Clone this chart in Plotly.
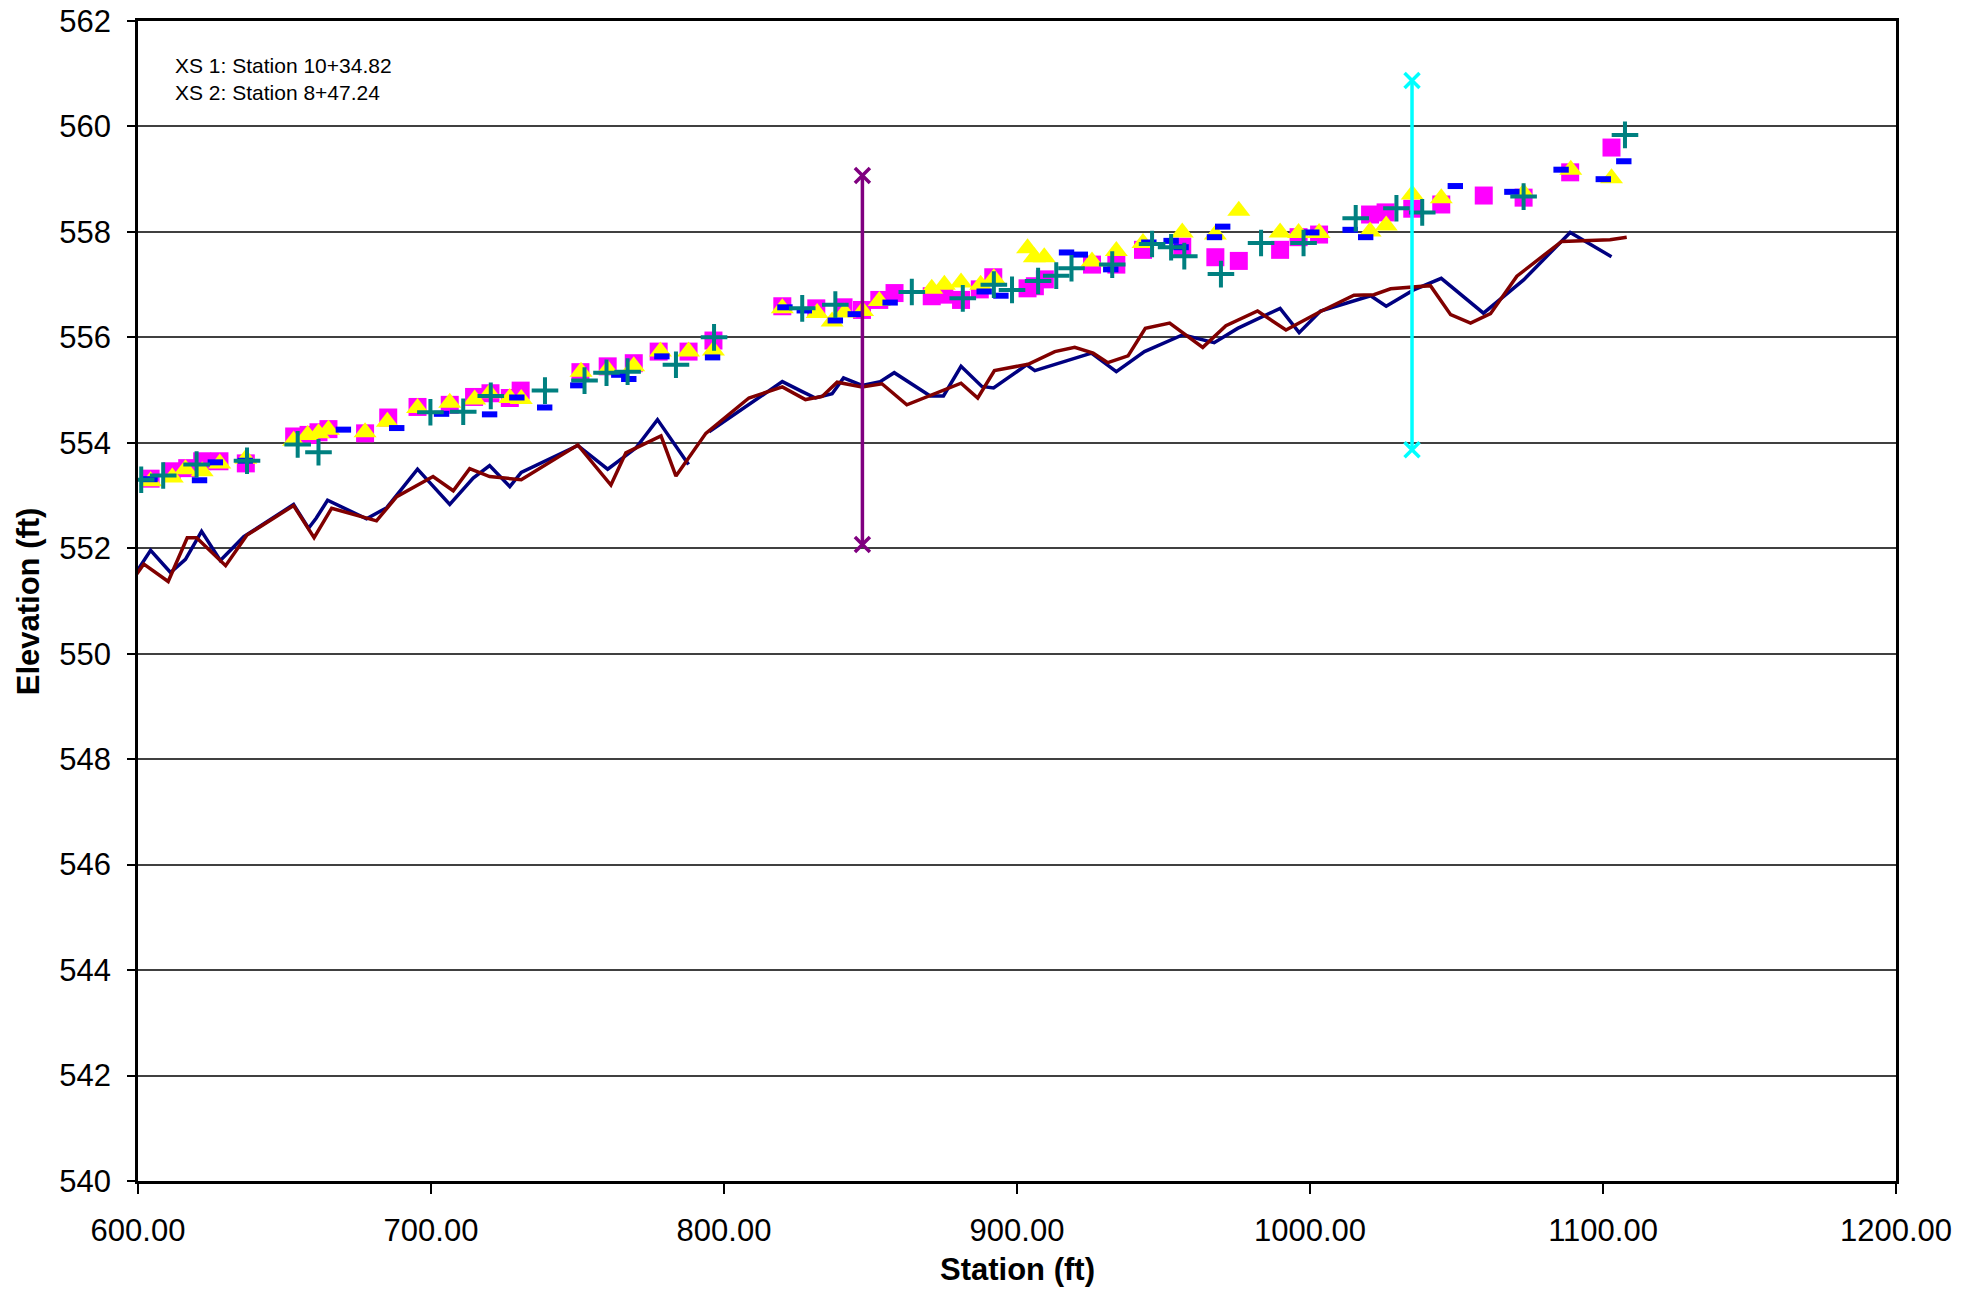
import plotly.graph_objects as go

# ---- Data ----
line1_x = [597.7, 604.3, 611.1, 616.2, 621.7, 628.1, 636.1, 653.1, 658.2, 660.8, 664.7, 678.0, 684.9,
           695.4, 706.4, 714.4, 720.0, 726.9, 730.8, 750.1, 760.3, 769.9, 777.3, 787.9, None,
           794.9, 808.5, 819.9, 826.7, 831.2, 836.9, 840.8, 847.1, 853.3, 858.1, 870.4, 874.9,
           880.9, 888.0, 892.0, 903.3, 906.1, 925.4, 933.9, 943.5, 956.6, 967.3, 975.3, 989.8,
           996.3, 1003.6, 1020.7, 1026.0, 1035.4, 1044.8, 1059.2, 1072.9, 1088.8, 1102.9]
line1_y = [551.40, 551.96, 551.54, 551.79, 552.32, 551.77, 552.22, 552.83, 552.38, 552.57, 552.91, 552.56, 552.77,
           553.50, 552.83, 553.33, 553.57, 553.17, 553.44, 553.95, 553.50, 553.90, 554.44, 553.59, None,
           554.21, 554.72, 555.16, 554.97, 554.85, 554.93, 555.23, 555.09, 555.16, 555.33, 554.89, 554.89,
           555.45, 555.07, 555.04, 555.48, 555.37, 555.70, 555.35, 555.73, 556.05, 555.90, 556.17, 556.55,
           556.09, 556.50, 556.79, 556.59, 556.90, 557.12, 556.46, 557.09, 557.99, 557.53]

line2_x = [597.7, 602.0, 610.3, 616.8, 620.0, 629.9, 637.2, 653.1, 660.1, 666.1, 681.4, 688.3, 700.7,
           707.6, 713.2, 720.0, 730.8, 750.1, 761.4, 766.5, 778.5, 783.6, 793.8, 808.5, 819.9, 827.8,
           833.5, 838.6, 847.1, 853.9, 862.4, 880.9, 886.6, 892.3, 903.8, 912.9, 919.7, 926.0, 931.0,
           937.9, 943.8, 952.1, 963.4, 971.3, 982.1, 991.8, 1003.6, 1015.0, 1021.8, 1027.5, 1041.1,
           1048.0, 1054.8, 1061.6, 1070.6, 1085.9, 1102.4, 1108.1]
line2_y = [551.37, 551.70, 551.37, 552.20, 552.20, 551.67, 552.25, 552.81, 552.20, 552.76, 552.52, 552.98, 553.36,
           553.09, 553.51, 553.36, 553.30, 553.96, 553.20, 553.81, 554.13, 553.37, 554.18, 554.85, 555.06, 554.82,
           554.88, 555.15, 555.06, 555.12, 554.72, 555.13, 554.85, 555.37, 555.49, 555.73, 555.81, 555.70, 555.52,
           555.65, 556.17, 556.27, 555.81, 556.22, 556.50, 556.14, 556.49, 556.80, 556.81, 556.92, 556.98,
           556.43, 556.27, 556.45, 557.16, 557.82, 557.85, 557.90]

sq_x = [604.3, 611.5, 616.8, 621.9, 627.8, 636.8, 653.3, 658.2, 661.6, 665.0, 677.5, 685.4, 695.4, 706.4,
        714.7, 720.3, 726.9, 730.6, 751.0, 760.3, 769.2, 777.7, 787.9, 796.4, 819.9, 831.5, 840.8, 847.1,
        853.0, 858.2, 870.9, 875.2, 880.9, 887.3, 891.9, 903.6, 906.1, 909.5, 925.6, 933.9, 943.0, 956.4,
        967.7, 975.7, 989.8, 996.1, 1003.1, 1020.5, 1025.8, 1034.9, 1044.8, 1059.3, 1072.9, 1088.8, 1102.9]
sq_y = [553.32, 553.46, 553.52, 553.65, 553.65, 553.61, 554.12, 554.15, 554.20, 554.26, 554.18, 554.48, 554.68, 554.72,
        554.87, 554.94, 554.85, 554.99, 555.34, 555.45, 555.51, 555.73, 555.73, 555.94, 556.59, 556.55, 556.57, 556.52,
        556.71, 556.84, 556.78, 556.81, 556.71, 556.91, 557.14, 556.93, 556.97, 557.10, 557.38, 557.38, 557.66, 557.72,
        557.52, 557.45, 557.66, 557.90, 557.95, 558.33, 558.37, 558.44, 558.52, 558.69, 558.65, 559.13, 559.60]

tri_x = [604.3, 611.7, 616.2, 621.9, 627.9, 636.8, 653.1, 657.9, 661.6, 665.0, 677.5, 685.1, 695.4, 706.4,
         714.9, 720.0, 726.9, 730.8, 751.2, 760.3, 769.2, 778.3, 787.9, 796.4, 819.9, 831.8, 836.9, 841.2,
         847.3, 853.0, 870.9, 875.2, 880.9, 887.6, 892.1, 903.6, 905.9, 909.3, 925.6, 933.9, 943.0, 956.4,
         967.7, 975.7, 989.8, 996.1, 1003.1, 1020.5, 1026.0, 1034.9, 1044.8, 1072.9, 1089.0, 1102.9]
tri_y = [553.27, 553.34, 553.50, 553.46, 553.61, 553.70, 554.04, 554.15, 554.18, 554.25, 554.20, 554.40, 554.66, 554.76,
         554.82, 554.94, 554.85, 554.83, 555.35, 555.39, 555.45, 555.73, 555.73, 555.75, 556.55, 556.46, 556.30, 556.47,
         556.50, 556.69, 556.92, 557.00, 557.04, 557.00, 557.12, 557.69, 557.52, 557.52, 557.44, 557.64, 557.79, 557.99,
         557.95, 558.40, 557.99, 557.98, 557.98, 558.01, 558.12, 558.71, 558.64, 558.74, 559.18, 559.02]

plus_x = [601.1, 608.6, 620.0, 637.2, 654.5, 661.6, 699.8, 711.0, 720.4, 738.9, 752.4, 759.9, 767.1, 783.6,
          796.6, 826.7, 838.0, 864.1, 881.5, 892.1, 898.3, 907.2, 913.4, 918.6, 932.5, 946.1, 952.6, 957.1,
          969.6, 983.3, 997.8, 1015.6, 1029.5, 1038.3, 1072.9, 1107.5]
plus_y = [553.30, 553.38, 553.59, 553.66, 553.97, 553.82, 554.58, 554.59, 554.89, 554.99, 555.18, 555.33, 555.35, 555.48,
          556.00, 556.55, 556.62, 556.86, 556.74, 557.00, 556.90, 557.07, 557.17, 557.31, 557.38, 557.77, 557.71, 557.54,
          557.20, 557.79, 557.79, 558.26, 558.45, 558.37, 558.67, 559.84]

dash_x = [604.1, 621.0, 626.4, 636.6, 670.1, 688.3, 703.6, 720.0, 729.3, 738.8, 750.1, 764.1, 767.5, 778.8,
          796.1, 820.8, 827.4, 838.0, 844.8, 856.7, 888.8, 894.5, 916.9, 921.6, 932.0, 945.0, 952.6, 956.0,
          967.4, 970.2, 1000.6, 1013.7, 1019.0, 1049.6, 1068.9, 1085.7, 1100.1, 1107.1]
dash_y = [553.31, 553.29, 553.63, 553.66, 554.25, 554.28, 554.55, 554.54, 554.86, 554.67, 555.09, 555.29, 555.21, 555.64,
          555.62, 556.57, 556.51, 556.32, 556.44, 556.66, 556.87, 556.79, 557.61, 557.57, 557.29, 557.80, 557.83, 557.71,
          557.90, 558.10, 557.99, 558.04, 557.90, 558.87, 558.76, 559.18, 559.00, 559.34]

xs1_x = [1034.82, 1034.82]
xs1_y = [553.87, 560.87]
xs2_x = [847.24, 847.24]
xs2_y = [552.07, 559.07]

x_ticks = [600, 700, 800, 900, 1000, 1100, 1200]
y_ticks = [540, 542, 544, 546, 548, 550, 552, 554, 556, 558, 560, 562]
note_lines = ["XS 1: Station 10+34.82", "XS 2: Station 8+47.24"]

FONT = "Arial, Liberation Sans, sans-serif"

fig = go.Figure()
fig.add_trace(go.Scatter(x=line1_x, y=line1_y, mode="lines", name="Profile 1",
                         line=dict(color="#000080", width=3.5), connectgaps=False))
fig.add_trace(go.Scatter(x=line2_x, y=line2_y, mode="lines", name="Profile 2",
                         line=dict(color="#800000", width=3.5)))
fig.add_trace(go.Scatter(x=sq_x, y=sq_y, mode="markers", name="WS 1",
                         marker=dict(symbol="square", size=18, color="#FF00FF")))
fig.add_trace(go.Scatter(x=tri_x, y=tri_y, mode="markers", name="WS 2",
                         marker=dict(symbol="triangle-up", size=20, color="#FFFF00")))
fig.add_trace(go.Scatter(x=dash_x, y=dash_y, mode="markers", name="WS 3",
                         marker=dict(symbol="line-ew", size=11, color="#0000FF",
                                     line=dict(color="#0000FF", width=6))))
fig.add_trace(go.Scatter(x=plus_x, y=plus_y, mode="markers", name="WS 4",
                         marker=dict(symbol="cross-thin", size=19, color="#008080",
                                     line=dict(color="#008080", width=4))))
fig.add_trace(go.Scatter(x=xs2_x, y=xs2_y, mode="lines+markers", name="XS 2",
                         line=dict(color="#800080", width=3.5),
                         marker=dict(symbol="x-thin", size=15, color="#800080",
                                     line=dict(color="#800080", width=3.5))))
fig.add_trace(go.Scatter(x=xs1_x, y=xs1_y, mode="lines+markers", name="XS 1",
                         line=dict(color="#00FFFF", width=3.5),
                         marker=dict(symbol="x-thin", size=15, color="#00FFFF",
                                     line=dict(color="#00FFFF", width=3.5))))

fig.update_layout(
    width=1980, height=1289,
    margin=dict(l=130, r=92, t=13, b=116, autoexpand=False),
    paper_bgcolor="white", plot_bgcolor="white",
    showlegend=False,
    font=dict(family=FONT, color="black", size=31),
    xaxis=dict(range=[600, 1200], tickvals=x_ticks, ticktext=[f"{v:.2f}" for v in x_ticks],
               automargin=False, ticklabelstandoff=10, ticklabeloverflow="allow",
               showgrid=False, zeroline=False, showline=True, linecolor="black", linewidth=2.5,
               mirror=True, ticks="outside", ticklen=10, tickcolor="black", tickwidth=1.5,
               tickfont=dict(size=31, family=FONT, color="black")),
    yaxis=dict(range=[540, 562], tickvals=y_ticks, showgrid=True, gridcolor="#404040", gridwidth=1.5,
               automargin=False, ticklabelstandoff=10, ticklabeloverflow="allow",
               zeroline=False, showline=True, linecolor="black", linewidth=2.5, mirror=True,
               ticks="outside", ticklen=8, tickcolor="black", tickwidth=1.5,
               tickfont=dict(size=31, family=FONT, color="black")),
    annotations=[
        dict(text="<br>".join(note_lines), xref="paper", yref="paper", x=0.020, y=0.973,
             xanchor="left", yanchor="top", align="left", showarrow=False,
             font=dict(size=21, family=FONT, color="black")),
        dict(text="<b>Station (ft)</b>", xref="paper", yref="paper", x=0.5, y=-0.0765,
             xanchor="center", yanchor="middle", showarrow=False,
             font=dict(size=31, family=FONT, color="black")),
        dict(text="<b>Elevation (ft)</b>", xref="paper", yref="paper", x=-0.0624, y=0.5,
             xanchor="center", yanchor="middle", textangle=-90, showarrow=False,
             font=dict(size=31, family=FONT, color="black")),
    ],
)

fig.write_html("out.html")
